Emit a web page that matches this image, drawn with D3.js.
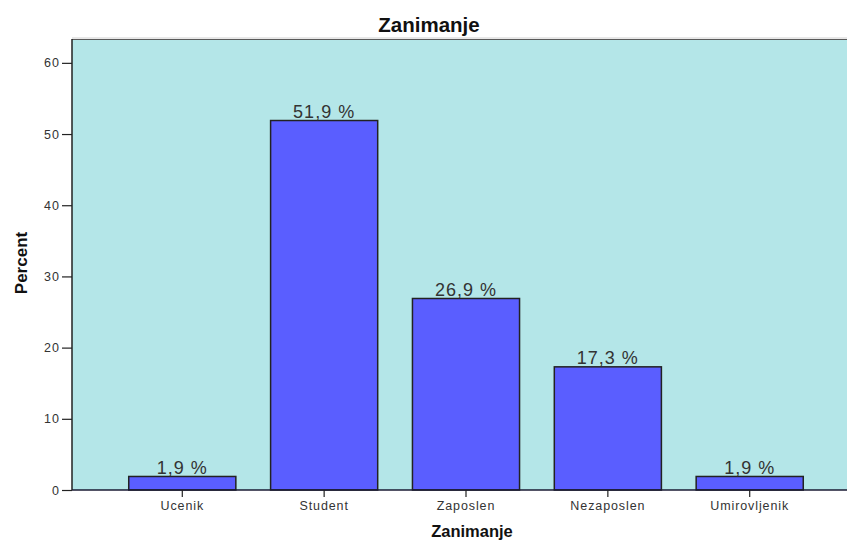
<!DOCTYPE html>
<html>
<head>
<meta charset="utf-8">
<script src="https://cdn.jsdelivr.net/npm/d3@7"></script>
<style>
  html, body { margin: 0; padding: 0; background: #fff; }
  svg { display: block; }
  text { font-family: Arial, "Liberation Sans", sans-serif; }
</style>
</head>
<body>
<div id="chart"></div>
<script>
const categories = ["Ucenik", "Student", "Zaposlen", "Nezaposlen", "Umirovljenik"];
const percents = [1.9, 51.9, 26.9, 17.3, 1.9];
const valueLabels = ["1,9 %", "51,9 %", "26,9 %", "17,3 %", "1,9 %"];
const yTicks = [0, 10, 20, 30, 40, 50, 60];
const chartTitle = "Zanimanje";
const xTitle = "Zanimanje";
const yTitle = "Percent";

const W = 847, H = 540;
const mLeft = 72, mTop = 39, mBottom = 490, plotRight = 860;

const svg = d3.select("#chart").append("svg")
  .attr("width", W).attr("height", H);

const x = d3.scaleBand()
  .domain(categories)
  .range([mLeft, plotRight])
  .paddingInner(0.245)
  .paddingOuter(0.40);

const y = d3.scaleLinear()
  .domain([0, 63.35])
  .range([mBottom, mTop]);

// plot background
svg.append("rect")
  .attr("x", mLeft).attr("y", mTop)
  .attr("width", plotRight - mLeft).attr("height", mBottom - mTop)
  .attr("fill", "#b4e6e8");

// top frame line
svg.append("line")
  .attr("x1", mLeft).attr("x2", W).attr("y1", mTop - 1).attr("y2", mTop - 1)
  .attr("stroke", "#d0d0d0").attr("stroke-width", 1);
svg.append("line")
  .attr("x1", mLeft).attr("x2", W).attr("y1", mTop + 0.5).attr("y2", mTop + 0.5)
  .attr("stroke", "#5a5a5a").attr("stroke-width", 1);

// bars
const data = categories.map((c, i) => ({ c, v: percents[i], label: valueLabels[i] }));
svg.append("g").selectAll("rect").data(data).join("rect")
  .attr("x", d => x(d.c))
  .attr("y", d => y(d.v))
  .attr("width", x.bandwidth())
  .attr("height", d => y(0) - y(d.v))
  .attr("fill", "#5a5eff")
  .attr("stroke", "#222")
  .attr("stroke-width", 1.5);

// value labels
svg.append("g").selectAll("text").data(data).join("text")
  .attr("x", d => x(d.c) + x.bandwidth() / 2)
  .attr("y", d => y(d.v) - 2.5)
  .attr("text-anchor", "middle")
  .attr("font-size", 18)
  .attr("letter-spacing", "1px")
  .attr("fill", "#333")
  .text(d => d.label);

// y axis
const yAxis = d3.axisLeft(y).tickValues(yTicks).tickSize(10).tickPadding(2).tickFormat(d3.format("d"));
const gy = svg.append("g").attr("transform", `translate(${mLeft},0)`).call(yAxis);
gy.select(".domain").attr("stroke", "#222").attr("stroke-width", 1.5)
  .attr("d", `M0,${mTop}V${mBottom}`);
gy.selectAll(".tick line").attr("stroke", "#222").attr("stroke-width", 1.2);
gy.selectAll(".tick text")
  .attr("font-size", 12.5)
  .attr("letter-spacing", "1px")
  .attr("fill", "#333")
  .attr("font-family", "Arial, 'Liberation Sans', sans-serif");

// x axis
const xAxis = d3.axisBottom(x).tickSize(7).tickPadding(4);
const gx = svg.append("g").attr("transform", `translate(0,${mBottom})`).call(xAxis);
gx.select(".domain").attr("stroke", "#1a1a33").attr("stroke-width", 1.5)
  .attr("d", `M${mLeft},0H${W}`);
gx.selectAll(".tick line").attr("stroke", "#222").attr("stroke-width", 1.2);
gx.selectAll(".tick text")
  .attr("font-size", 12.5)
  .attr("letter-spacing", "0.9px")
  .attr("fill", "#333")
  .attr("font-family", "Arial, 'Liberation Sans', sans-serif");

// title
svg.append("text")
  .attr("x", 429).attr("y", 32)
  .attr("text-anchor", "middle")
  .attr("font-size", 20.5)
  .attr("font-weight", "bold")
  .attr("fill", "#111")
  .text(chartTitle);

// x title
svg.append("text")
  .attr("x", 472).attr("y", 537)
  .attr("text-anchor", "middle")
  .attr("font-size", 16.5)
  .attr("font-weight", "bold")
  .attr("fill", "#111")
  .text(xTitle);

// y title
svg.append("text")
  .attr("transform", `translate(27,263) rotate(-90)`)
  .attr("text-anchor", "middle")
  .attr("font-size", 17)
  .attr("font-weight", "bold")
  .attr("fill", "#111")
  .text(yTitle);
</script>
</body>
</html>
